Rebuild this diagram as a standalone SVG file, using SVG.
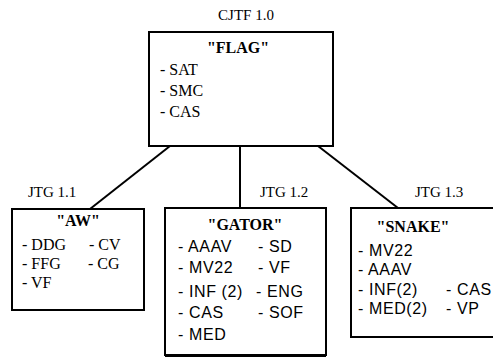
<svg xmlns="http://www.w3.org/2000/svg" width="493" height="358" viewBox="0 0 493 358">
<style>
.box{fill:#fff;stroke:#000;stroke-width:2}
.t{font-family:"Liberation Serif",serif;fill:#000}
.s{font-family:"Liberation Sans",sans-serif;fill:#000}
.title{font-weight:bold;font-size:16px;text-anchor:middle}
.lbl{font-size:15px}
.it{font-size:16px}
.s.it{letter-spacing:0.6px}
.con{stroke:#000;stroke-width:2;fill:none}
</style>
<rect width="493" height="358" fill="#fff"/>
<g id="connectors">
<line class="con" x1="170" y1="146" x2="90" y2="209"/>
<line class="con" x1="240" y1="146" x2="240" y2="208"/>
<line class="con" x1="318" y1="146" x2="398" y2="208"/>
</g>
<g id="flag">
<text class="t lbl" x="246" y="20" text-anchor="middle" font-size="16">CJTF 1.0</text>
<rect class="box" x="149" y="32" width="184" height="114"/>
<text class="t title" x="238" y="53">"FLAG"</text>
<text class="t it" x="160" y="75">- SAT</text>
<text class="t it" x="160" y="96">- SMC</text>
<text class="t it" x="160" y="117">- CAS</text>
</g>
<g id="aw">
<text class="t lbl" x="28" y="197">JTG 1.1</text>
<rect class="box" x="12" y="209" width="132" height="101"/>
<text class="t title" x="78" y="226">"AW"</text>
<text class="t it" x="22" y="250">- DDG</text>
<text class="t it" x="89" y="250">- CV</text>
<text class="t it" x="22" y="269">- FFG</text>
<text class="t it" x="88" y="269">- CG</text>
<text class="t it" x="22" y="288">- VF</text>
</g>
<g id="gator">
<text class="t lbl" x="260" y="197">JTG 1.2</text>
<rect class="box" x="165" y="208" width="161" height="147"/>
<line x1="165" y1="356" x2="326" y2="356" stroke="#000" stroke-width="2"/>
<text class="t title" x="245" y="230">"GATOR"</text>
<text class="s it" x="178" y="252">- AAAV</text>
<text class="s it" x="258" y="252">- SD</text>
<text class="s it" x="178" y="273">- MV22</text>
<text class="s it" x="258" y="273">- VF</text>
<text class="s it" x="178" y="297">- INF (2)</text>
<text class="s it" x="256" y="297">- ENG</text>
<text class="s it" x="178" y="318">- CAS</text>
<text class="s it" x="258" y="318">- SOF</text>
<text class="s it" x="178" y="340">- MED</text>
</g>
<g id="snake">
<text class="t lbl" x="415" y="197">JTG 1.3</text>
<rect class="box" x="351" y="208" width="150" height="129"/>
<text class="t title" x="413" y="232">"SNAKE"</text>
<text class="s it" x="358" y="256">- MV22</text>
<text class="s it" x="358" y="275">- AAAV</text>
<text class="s it" x="358" y="295">- INF(2)</text>
<text class="s it" x="446" y="295">- CAS</text>
<text class="s it" x="358" y="314">- MED(2)</text>
<text class="s it" x="446" y="314">- VP</text>
</g>
</svg>
